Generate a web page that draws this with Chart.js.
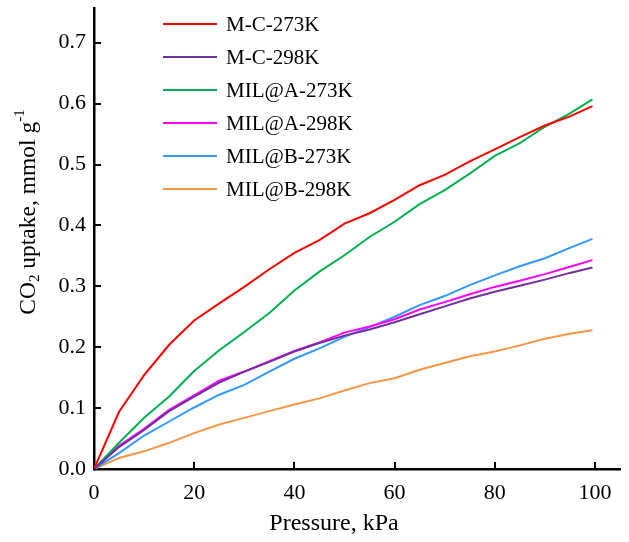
<!DOCTYPE html>
<html>
<head>
<meta charset="utf-8">
<script src="https://cdn.jsdelivr.net/npm/chart.js@4.4.1/dist/chart.umd.min.js"></script>
<style>
  html, body { margin: 0; padding: 0; background: #fff; }
  canvas { display: block; }
</style>
</head>
<body>
<canvas id="uptake" width="629" height="542"></canvas>
<script>
'use strict';

// data
const pressure = [0, 5, 10, 15, 20, 25, 30, 35, 40, 45, 50, 55, 60, 65, 70, 75, 80, 85, 90, 95, 99.5];
const mc273  = [0, 0.094, 0.154, 0.204, 0.244, 0.272, 0.299, 0.328, 0.355, 0.376, 0.403, 0.420, 0.442, 0.466, 0.483, 0.505, 0.525, 0.545, 0.564, 0.579, 0.596];
const mc298  = [0, 0.036, 0.064, 0.095, 0.119, 0.142, 0.160, 0.176, 0.193, 0.207, 0.219, 0.229, 0.241, 0.254, 0.267, 0.280, 0.291, 0.301, 0.311, 0.322, 0.331];
const milA273 = [0, 0.043, 0.084, 0.119, 0.161, 0.195, 0.225, 0.256, 0.293, 0.324, 0.351, 0.381, 0.406, 0.435, 0.458, 0.485, 0.514, 0.535, 0.562, 0.584, 0.607];
const milA298 = [0, 0.038, 0.066, 0.097, 0.121, 0.145, 0.160, 0.177, 0.194, 0.208, 0.224, 0.234, 0.246, 0.262, 0.274, 0.287, 0.299, 0.309, 0.320, 0.332, 0.343];
const milB273 = [0, 0.026, 0.055, 0.078, 0.101, 0.122, 0.138, 0.160, 0.181, 0.198, 0.217, 0.233, 0.250, 0.269, 0.284, 0.302, 0.318, 0.333, 0.346, 0.363, 0.378];
const milB298 = [0, 0.018, 0.029, 0.043, 0.059, 0.073, 0.084, 0.095, 0.106, 0.116, 0.129, 0.141, 0.149, 0.163, 0.174, 0.185, 0.193, 0.203, 0.214, 0.222, 0.228];

const seriesNames = ['M-C-273K', 'M-C-298K', 'MIL@A-273K', 'MIL@A-298K', 'MIL@B-273K', 'MIL@B-298K'];
const seriesValues = [mc273, mc298, milA273, milA298, milB273, milB298];
const seriesColors = ['#ff0000', '#7030a0', '#00b050', '#ff00ff', '#3399ff', '#f79646'];

const xTicks = [0, 20, 40, 60, 80, 100];
const yTicks = [0, 0.1, 0.2, 0.3, 0.4, 0.5, 0.6, 0.7];

const FONT = '"Liberation Serif", "Times New Roman", serif';

// helpers
const toPoints = (vals) => vals.map((v, i) => ({ x: pressure[i], y: v }));

// inward ticks, axis titles and legend
const decorations = {
  id: 'decorations',
  afterDraw(chart) {
    const { ctx, chartArea: a, scales: { x, y } } = chart;
    ctx.save();

    // ticks pointing into the plot
    ctx.strokeStyle = '#000';
    ctx.lineWidth = 2;
    ctx.beginPath();
    xTicks.forEach(v => {
      if (v === 0) return;
      const px = Math.round(x.getPixelForValue(v));
      ctx.moveTo(px, a.bottom); ctx.lineTo(px, a.bottom - 7);
    });
    yTicks.forEach(v => {
      if (v === 0) return;
      const py = Math.round(y.getPixelForValue(v));
      ctx.moveTo(a.left, py); ctx.lineTo(a.left + 7, py);
    });
    ctx.stroke();

    ctx.fillStyle = '#000';
    ctx.textBaseline = 'middle';

    // x title
    ctx.font = '24px ' + FONT;
    ctx.textAlign = 'center';
    ctx.fillText('Pressure, kPa', 334, 524);

    // y title with sub/superscripts
    const big = '23.5px ' + FONT, small = '15px ' + FONT;
    const parts = [
      { t: 'CO', f: big, dy: 0 },
      { t: '2', f: small, dy: 6 },
      { t: ' uptake, mmol g', f: big, dy: 0 },
      { t: '-1', f: small, dy: -9 },
    ];
    let total = 0;
    parts.forEach(p => { ctx.font = p.f; p.w = ctx.measureText(p.t).width; total += p.w; });
    ctx.translate(29, 212);
    ctx.rotate(-Math.PI / 2);
    ctx.textAlign = 'left';
    let cx = -total / 2;
    parts.forEach(p => { ctx.font = p.f; ctx.fillText(p.t, cx, p.dy); cx += p.w; });
    ctx.setTransform(1, 0, 0, 1, 0, 0);

    // legend
    ctx.font = '21px ' + FONT;
    ctx.textAlign = 'left';
    ctx.lineWidth = 2;
    chart.data.datasets.forEach((ds, i) => {
      const ly = 24 + i * 33;
      ctx.strokeStyle = ds.borderColor;
      ctx.beginPath(); ctx.moveTo(163, ly); ctx.lineTo(217, ly); ctx.stroke();
      ctx.fillStyle = '#000';
      ctx.fillText(ds.label, 226, ly + 1);
    });

    ctx.restore();
  }
};

new Chart(document.getElementById('uptake').getContext('2d'), {
  type: 'line',
  data: {
    datasets: seriesNames.map((name, i) => ({
      label: name,
      data: toPoints(seriesValues[i]),
      borderColor: seriesColors[i],
      backgroundColor: seriesColors[i],
      borderWidth: 2,
      pointRadius: 0,
      tension: 0,
      fill: false,
    }))
  },
  options: {
    responsive: false,
    animation: false,
    devicePixelRatio: 1,
    layout: { padding: { left: 0, right: 9, top: 8, bottom: 0 } },
    plugins: { legend: { display: false }, tooltip: { enabled: false } },
    scales: {
      x: {
        type: 'linear',
        min: 0, max: 105,
        afterBuildTicks: (s) => { s.ticks = xTicks.map(v => ({ value: v })); },
        afterFit: (s) => { s.height = 73; s.paddingLeft = 0; s.paddingRight = 0; },
        grid: { display: false, drawTicks: false },
        border: { display: true, color: '#000', width: 2.5 },
        ticks: { color: '#000', font: { family: FONT, size: 22 }, padding: 11, maxRotation: 0 }
      },
      y: {
        type: 'linear',
        min: 0, max: 0.757,
        afterBuildTicks: (s) => { s.ticks = yTicks.map(v => ({ value: v })); },
        afterFit: (s) => { s.width = 94; s.paddingTop = 0; s.paddingBottom = 0; },
        grid: { display: false, drawTicks: false },
        border: { display: true, color: '#000', width: 2.5 },
        ticks: { color: '#000', font: { family: FONT, size: 22 }, padding: 8, callback: (v) => Number(v).toFixed(1) }
      }
    }
  },
  plugins: [decorations]
});
</script>
</body>
</html>
